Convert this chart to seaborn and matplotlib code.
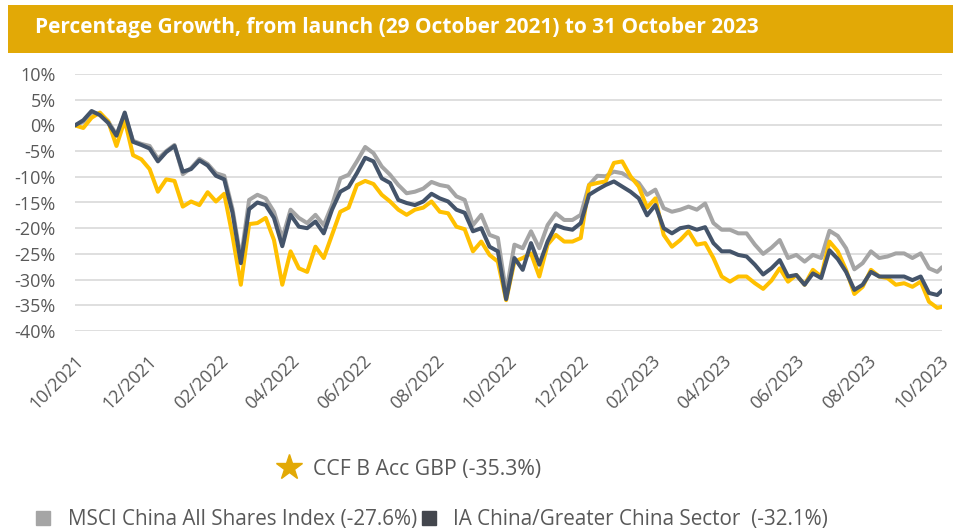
import pandas as pd
import matplotlib.pyplot as plt
from matplotlib.lines import Line2D
from matplotlib.patches import Rectangle
import seaborn as sns

# weekly readings from launch (29 Oct 2021) plus the final day (31 Oct 2023)
dates = list(pd.date_range("2021-10-29", periods=105, freq="7D")) + [pd.Timestamp("2023-10-31")]

ccf = [0.0, -0.5, 1.5, 2.5, 0.8, -4.0, 1.0, -5.8, -6.6, -8.5,
       -12.9, -10.5, -10.8, -15.8, -14.8, -15.5, -13.0, -14.8, -13.3, -21.5,
       -31.0, -19.2, -19.0, -18.0, -22.3, -31.0, -24.5, -27.8, -28.5, -23.6,
       -25.8, -21.3, -16.8, -16.0, -11.6, -10.8, -11.4, -13.5, -14.8, -16.4,
       -17.4, -16.4, -16.0, -14.8, -16.8, -17.1, -19.7, -20.2, -24.5, -22.6,
       -25.2, -26.5, -34.0, -26.5, -25.8, -24.9, -29.4, -23.2, -21.3, -22.6,
       -22.6, -21.9, -11.6, -11.2, -10.9, -7.3, -7.0, -9.9, -11.9, -16.0,
       -14.2, -21.3, -23.6, -22.3, -20.6, -23.2, -22.9, -25.8, -29.4, -30.4,
       -29.4, -29.4, -30.7, -31.8, -30.2, -27.8, -30.4, -29.1, -31.0, -28.1,
       -29.4, -22.6, -24.5, -28.1, -32.8, -31.4, -28.1, -29.4, -29.7, -31.0,
       -30.7, -31.4, -30.4, -34.3, -35.5, -35.3]

msci = [0.0, 0.7, 2.5, 2.2, 0.8, -1.8, 2.2, -3.0, -3.6, -4.0,
        -6.5, -5.0, -3.8, -9.5, -8.3, -6.5, -7.5, -9.3, -9.8, -16.3,
        -26.0, -14.5, -13.5, -14.2, -16.8, -22.0, -16.4, -18.0, -19.0, -17.4,
        -19.4, -15.5, -10.3, -9.6, -7.0, -4.2, -5.4, -8.0, -9.6, -11.6,
        -13.2, -12.9, -12.3, -11.0, -11.6, -11.9, -13.8, -14.5, -19.4, -17.4,
        -21.3, -21.9, -32.5, -23.2, -23.9, -20.6, -23.9, -19.4, -17.1, -18.4,
        -18.4, -17.4, -11.6, -9.8, -9.9, -9.0, -9.3, -10.3, -11.2, -13.5,
        -12.5, -16.1, -16.8, -16.4, -15.8, -16.4, -15.2, -19.0, -20.3, -20.3,
        -21.0, -21.0, -23.2, -25.0, -23.8, -22.3, -25.8, -25.2, -26.5, -25.2,
        -25.8, -20.5, -21.5, -23.9, -28.0, -26.8, -24.5, -25.8, -25.5, -24.9,
        -24.9, -25.8, -24.9, -27.8, -28.5, -27.6]

ia = [0.0, 1.0, 2.8, 2.0, 0.5, -2.0, 2.5, -3.2, -3.8, -4.5,
      -7.0, -5.2, -4.0, -9.0, -8.5, -6.8, -7.8, -9.8, -10.5, -17.0,
      -26.8, -16.3, -15.0, -15.5, -18.0, -23.5, -17.4, -19.7, -20.0, -18.7,
      -21.0, -16.4, -12.9, -12.0, -9.3, -6.3, -7.0, -10.3, -11.2, -14.5,
      -15.1, -15.5, -14.8, -13.3, -14.2, -14.8, -16.4, -17.0, -20.6, -20.0,
      -23.6, -24.5, -33.8, -25.8, -28.1, -22.9, -27.1, -22.6, -19.4, -20.0,
      -20.3, -19.0, -13.5, -12.5, -11.6, -10.9, -11.9, -12.9, -14.2, -17.5,
      -15.5, -20.0, -21.0, -20.0, -19.7, -20.3, -19.8, -22.9, -24.5, -24.5,
      -25.2, -25.5, -27.1, -29.0, -27.8, -26.2, -29.4, -29.1, -31.0, -28.8,
      -29.7, -24.3, -26.0, -28.5, -32.0, -31.0, -28.5, -29.4, -29.4, -29.4,
      -29.4, -30.1, -29.4, -32.6, -33.0, -32.1]

series_names = ["MSCI China All Shares Index (-27.6%)",
                "CCF B Acc GBP (-35.3%)",
                "IA China/Greater China Sector  (-32.1%)"]
line_colors = ["#A5A5A5", "#FFC000", "#44546A"]

tick_dates = ["2021-10-29", "2021-12-29", "2022-02-28", "2022-04-29", "2022-06-29",
              "2022-08-29", "2022-10-29", "2022-12-29", "2023-02-28", "2023-04-29",
              "2023-06-29", "2023-08-29", "2023-10-29"]
tick_labels = ["10/2021", "12/2021", "02/2022", "04/2022", "06/2022", "08/2022", "10/2022",
               "12/2022", "02/2023", "04/2023", "06/2023", "08/2023", "10/2023"]
y_ticks = [10, 5, 0, -5, -10, -15, -20, -25, -30, -35, -40]

df = pd.DataFrame({
    "date": dates * 3,
    "value": msci + ccf + ia,
    "series": [series_names[0]] * len(dates) + [series_names[1]] * len(dates) + [series_names[2]] * len(dates),
})

sns.set_theme(style="white")
plt.rcParams["font.family"] = ["Open Sans", "DejaVu Sans"]
text_grey = "#595959"

fig = plt.figure(figsize=(9.59, 5.29), dpi=100)

# title bar
fig.add_artist(Rectangle((8 / 959, 1 - 53 / 529), 945 / 959, 48 / 529,
                         transform=fig.transFigure, color="#E2A906", lw=0))
fig.text(35 / 959, 1 - 27 / 529, "Percentage Growth, from launch (29 October 2021) to 31 October 2023",
         color="white", fontsize=15, fontweight="bold", va="center", ha="left")

ax = fig.add_axes([75 / 959, 1 - 331 / 529, 867 / 959, 257 / 529])
sns.lineplot(data=df, x="date", y="value", hue="series", hue_order=series_names,
             palette=dict(zip(series_names, line_colors)), linewidth=2.9,
             legend=False, ax=ax)

ax.set_xlim(dates[0], dates[-1])
ax.set_ylim(-40, 10)
ax.set_yticks(y_ticks)
ax.set_yticklabels([f"{v}%" for v in y_ticks])
ax.set_xticks(pd.to_datetime(tick_dates))
ax.set_xticklabels(tick_labels, rotation=45, ha="right", rotation_mode="anchor")
ax.set_xlabel("")
ax.set_ylabel("")
ax.yaxis.grid(True, color="#D9D9D9", linewidth=1.2)
ax.xaxis.grid(False)
ax.set_axisbelow(True)
for s in ax.spines.values():
    s.set_visible(False)
ax.tick_params(axis="y", length=0, pad=14, labelsize=13, labelcolor=text_grey)
ax.tick_params(axis="x", length=0, pad=15, labelsize=13, labelcolor=text_grey)

# legend rows
fig.legend(handles=[Line2D([], [], marker="*", ls="none", color="#E2A906", markersize=19)],
           labels=[series_names[1]], loc="center left",
           bbox_to_anchor=(277 / 959, 1 - 469 / 529), frameon=False, fontsize=15.3,
           handletextpad=0.6, borderpad=0, borderaxespad=0, handlelength=1.1,
           labelcolor=text_grey)
fig.legend(handles=[Line2D([], [], marker="s", ls="none", color="#A5A5A5", markersize=10),
                    Line2D([], [], marker="s", ls="none", color="#43464D", markersize=10)],
           labels=[series_names[0], series_names[2]], ncol=2, loc="center left",
           bbox_to_anchor=(36 / 959, 1 - 520 / 529), frameon=False, fontsize=14.9,
           handletextpad=0.85, columnspacing=0.2, borderpad=0, borderaxespad=0,
           handlelength=0.7, labelcolor=text_grey)

fig.savefig("out.png", dpi=100)
